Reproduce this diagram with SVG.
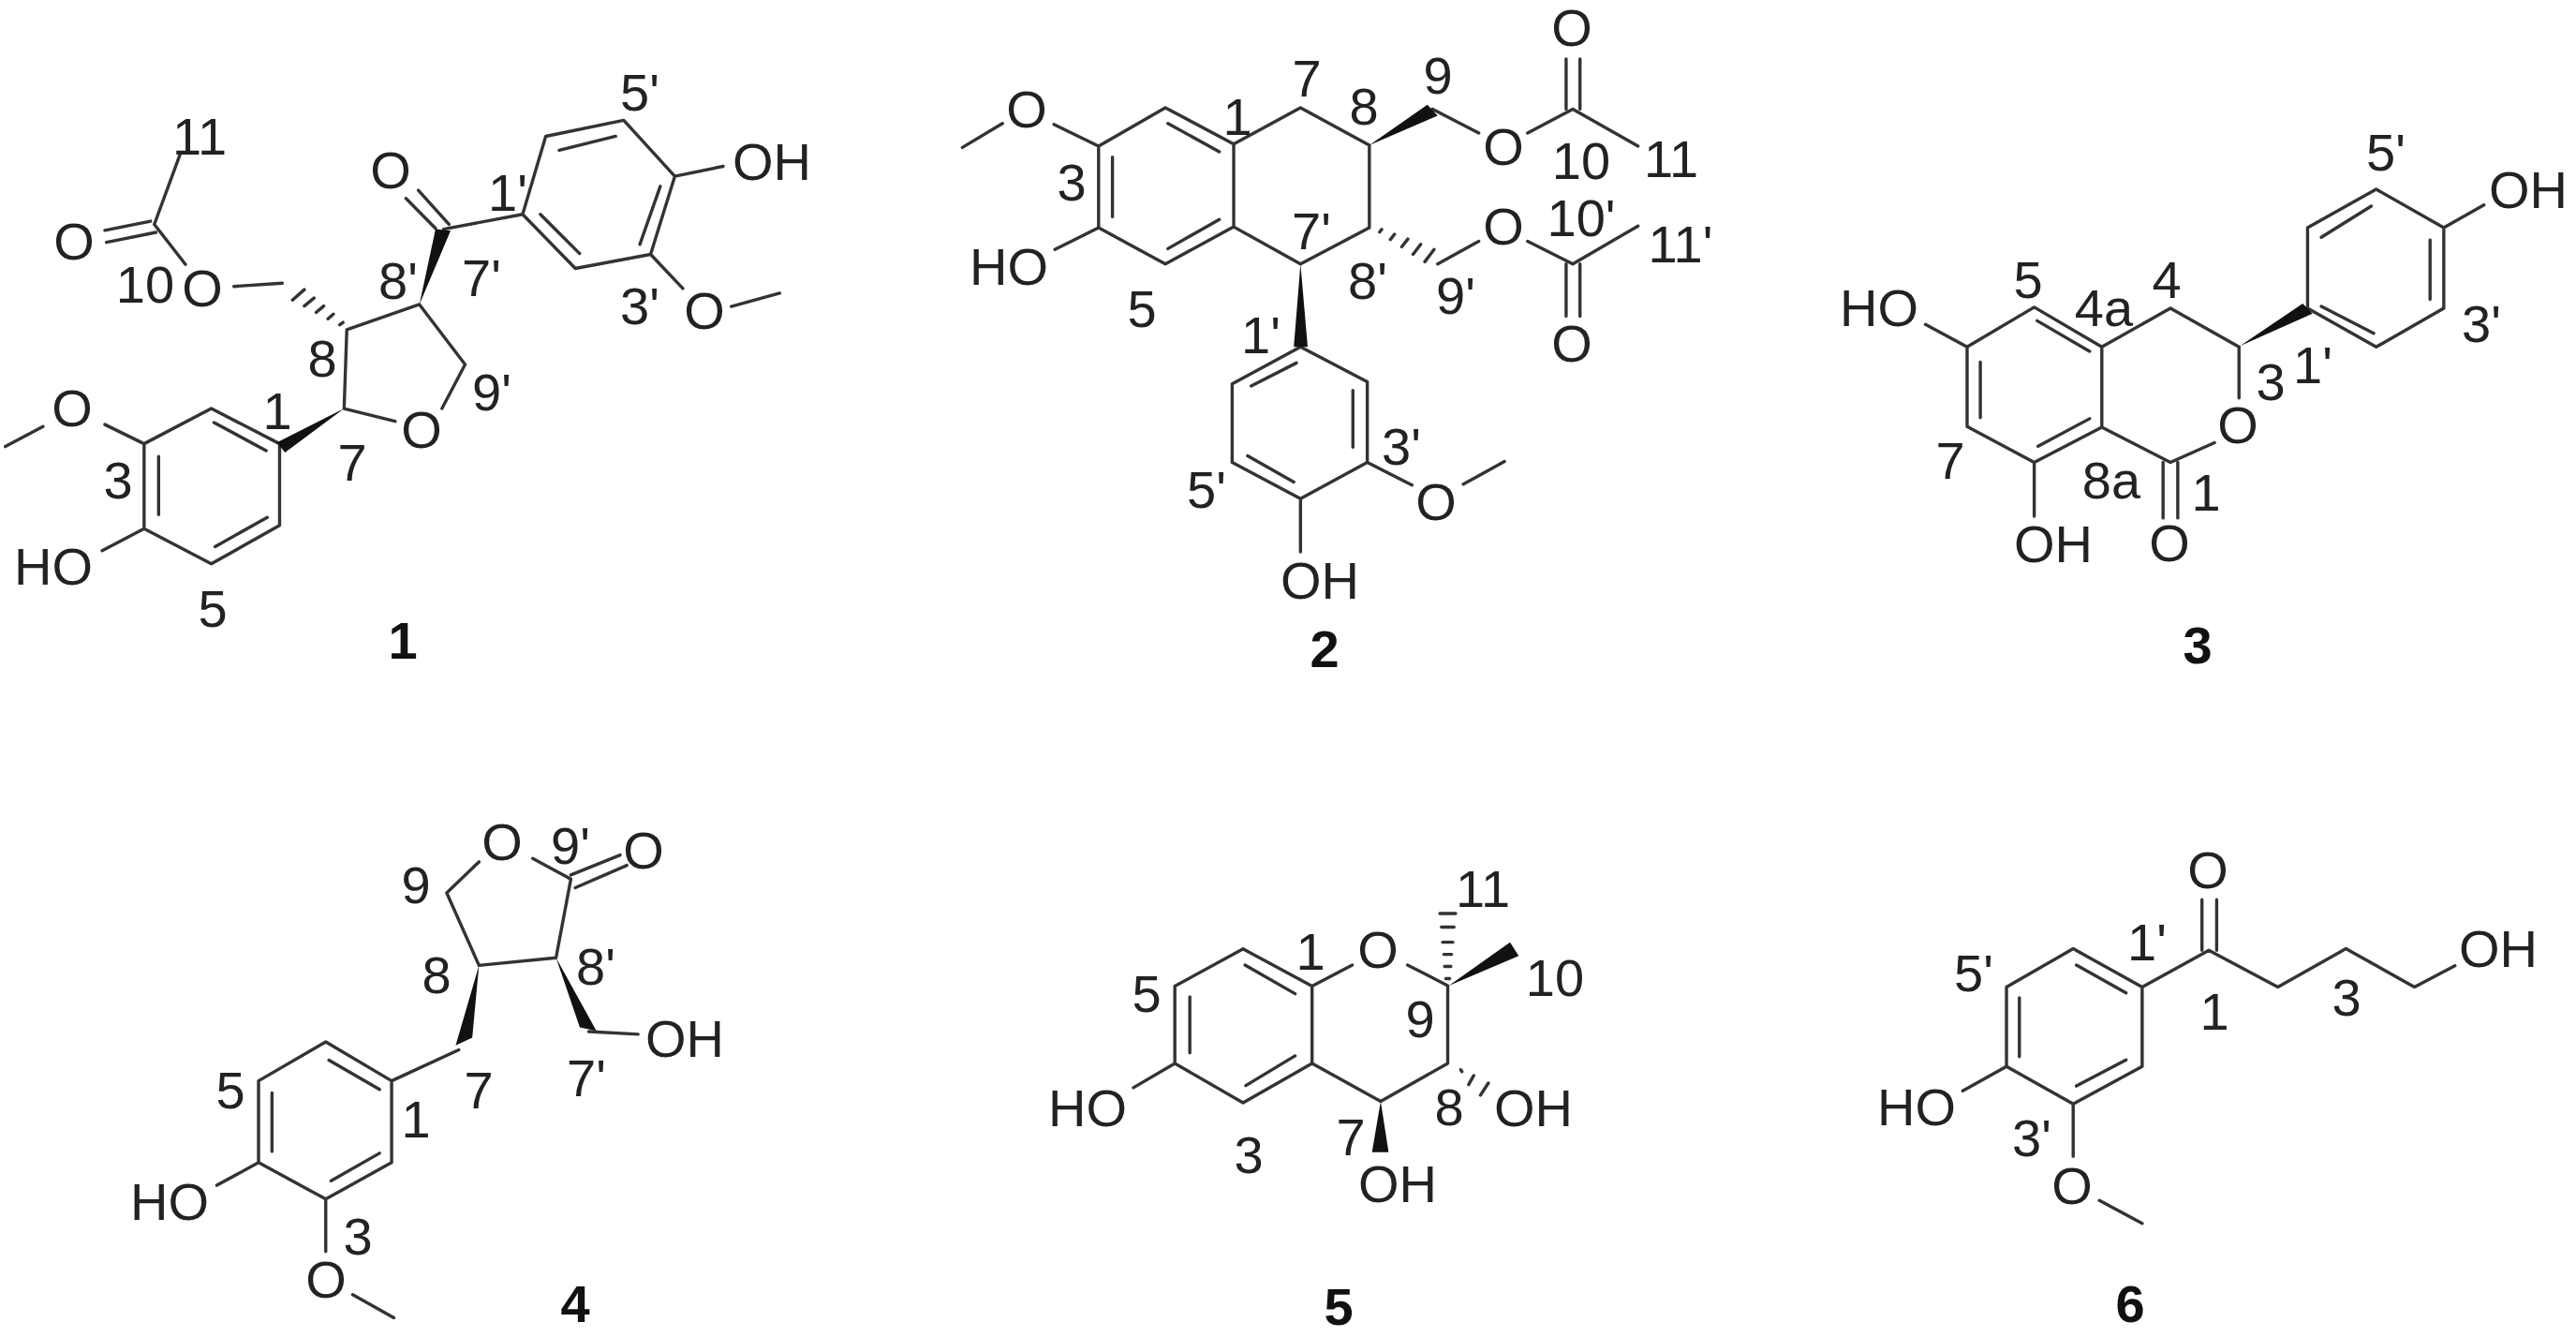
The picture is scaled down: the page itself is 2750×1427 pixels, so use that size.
<svg xmlns="http://www.w3.org/2000/svg" width="2750" height="1427" viewBox="0 0 2750 1427">
<style>
text{font-family:"Liberation Sans",Arial,sans-serif;font-size:56px;text-anchor:middle;fill:#222}
.b{fill:none;stroke:#333;stroke-width:3.4;stroke-linecap:round;stroke-linejoin:round;vector-effect:non-scaling-stroke}
.w{fill:#111;stroke:none}
.n{font-weight:bold;fill:#111}
</style>
<rect width="2750" height="1427" fill="#fff"/>
<g id="m1">
<g id="m1-bonds" transform="translate(0,60) scale(0.574,0.4273)">
<path class="b" d="M393 880L520 968L520 1172L393 1268L268 1180L268 968ZM398 915L495 985M497 1152L400 1225M295 1000L295 1145M268 968L195 920M80 925L10 975M268 1180L190 1235M640 880L735 912M822 880L865 770L780 620L645 683L640 880M835 420L778 335M810 430L755 355M825 432L972 395L1015 200L1160 160L1255 300L1210 495L1070 530L972 395M1040 235L1145 200M1228 325L1190 470M1005 395L1078 493M1255 300L1345 275M1210 495L1270 580M1360 625L1450 592M435 575L525 567M287 420L345 520M280 412L195 435M290 440L198 465M287 420L335 245M632 671L638 665M610 656L620 644M588 640L602 624M566 624L584 604M544 609L566 583"/>
<path class="w" d="M640 880L515 965L530 990ZM780 620L810 432L838 436Z"/>
</g>
<text x="213" y="165">11</text><text x="79" y="277">O</text><text x="155" y="323">10</text><text x="216" y="327">O</text><text x="425" y="319">8'</text><text x="514" y="316">7'</text><text x="344" y="402">8</text><text x="525" y="438">9'</text><text x="296" y="458">1</text><text x="450" y="478">O</text><text x="77" y="455">O</text><text x="126" y="532">3</text><text x="376" y="513">7</text><text x="57" y="624">HO</text><text x="227" y="669">5</text><text class="n" x="430" y="703">1</text><text x="417" y="201">O</text><text x="542" y="225">1'</text><text x="683" y="118">5'</text><text x="824" y="192">OH</text><text x="683" y="346">3'</text><text x="752" y="351">O</text>
</g>
<g id="m2">
<g id="m2-bonds" transform="translate(1000,0) scale(0.5485,0.4656)">
<path class="b" d="M445 247L578 330L578 520L445 605L315 522L315 335ZM450 283L550 348M550 503L450 570M342 360L342 497M315 335L228 285M128 283L50 338M315 522L230 572M578 330L708 247L842 333L842 522L708 605L578 520M965 250L1055 305M1150 305L1238 250L1365 335M1225 250L1225 135M1252 250L1252 135M975 605L1055 553M1150 553L1238 605L1365 518M1225 605L1225 725M1252 605L1252 725M708 795L575 880L575 1060L708 1143L838 1060L838 875L708 795M612 885L700 832M605 1045L695 1105M810 895L810 1025M708 1143L708 1265M838 1060L925 1112M1025 1110L1105 1058M862 532L866 526M883 549L891 537M905 566L917 548M927 583L942 560M950 600L968 572"/>
<path class="w" d="M842 333L955 240L975 265ZM708 605L695 795L722 795Z"/>
</g>
<text x="1096" y="136">O</text><text x="1077" y="304">HO</text><text x="1395" y="103">7</text><text x="1321" y="144">1</text><text x="1456" y="133">8</text><text x="1535" y="100">9</text><text x="1144" y="214">3</text><text x="1219" y="349">5</text><text x="1400" y="266">7'</text><text x="1460" y="319">8'</text><text x="1554" y="335">9'</text><text x="1605" y="176">O</text><text x="1678" y="49">O</text><text x="1688" y="191">10</text><text x="1784" y="189">11</text><text x="1605" y="261">O</text><text x="1688" y="252">10'</text><text x="1794" y="280">11'</text><text x="1678" y="386">O</text><text x="1346" y="377">1'</text><text x="1288" y="542">5'</text><text x="1496" y="496">3'</text><text x="1533" y="555">O</text><text x="1409" y="639">OH</text><text class="n" x="1414" y="712">2</text>
</g>
<g id="m3">
<g id="m3-bonds" transform="translate(1930,130) scale(0.523,0.3827)">
<path class="b" d="M462 517L600 628L600 852L462 950L325 850L325 628ZM468 555L575 640M575 828L470 905M352 670L352 825M325 628L240 565M462 950L462 1100M600 628L740 520L880 628L880 770M830 895L740 950L600 852M725 950L725 1105M755 950L755 1105M1020 520L1020 295L1160 188L1298 295L1298 520L1160 628ZM1048 322L1150 235M1270 330L1270 495M1155 590L1048 515M1298 295L1380 232"/>
<path class="w" d="M882 625L1010 507L1030 535Z"/>
</g>
<text x="2006" y="348">HO</text><text x="2165" y="318">5</text><text x="2313" y="318">4</text><text x="2246" y="348">4a</text><text x="2547" y="182">5'</text><text x="2699" y="222">OH</text><text x="2424" y="427">3</text><text x="2469" y="409">1'</text><text x="2649" y="365">3'</text><text x="2389" y="473">O</text><text x="2082" y="511">7</text><text x="2254" y="532">8a</text><text x="2355" y="545">1</text><text x="2192" y="600">OH</text><text x="2316" y="599">O</text><text class="n" x="2346" y="708">3</text>
</g>
<g id="m4">
<g id="m4-bonds" transform="translate(100,850) scale(0.4783,0.368)">
<path class="b" d="M518 712L665 825L665 1062L518 1168L368 1062L368 825ZM525 765L638 850M638 1035L530 1115M398 860L398 1030M368 1062L275 1128M518 1168L518 1320M578 1445L670 1512M665 825L815 735M860 490L1032 468M860 490L788 280L860 190M980 180L1065 240L1032 468M1065 228L1175 170M1075 265L1190 200M1105 682L1215 690"/>
<path class="w" d="M860 490L808 722L845 700ZM1032 468L1085 670L1122 680Z"/>
</g>
<text x="536" y="918">O</text><text x="609" y="922">9'</text><text x="687" y="927">O</text><text x="444" y="964">9</text><text x="466" y="1060">8</text><text x="636" y="1051">8'</text><text x="731" y="1128">OH</text><text x="626" y="1170">7'</text><text x="511" y="1183">7</text><text x="246" y="1183">5</text><text x="444" y="1214">1</text><text x="181" y="1302">HO</text><text x="382" y="1339">3</text><text x="348" y="1385">O</text><text class="n" x="614" y="1411">4</text>
</g>
<g id="m5">
<g id="m5-bonds" transform="translate(1090,920) scale(0.421,0.3233)">
<path class="b" d="M563 287L738 410L738 665L563 795L390 665L390 410ZM568 340L695 435M695 640L570 738M428 445L428 630M390 665L285 745M738 410L840 340M980 340L1082 408L1082 665L912 790L738 665M1077 385L1087 385M1074 345L1090 345M1072 305L1092 305M1069 265L1095 265M1066 215L1098 215M1062 170L1102 170M1115 686L1118 692M1148 705L1135 735M1185 730L1165 770"/>
<path class="w" d="M1085 408L1240 265L1262 310ZM912 790L890 958L932 958Z"/>
</g>
<text x="1471" y="1033">O</text><text x="1161" y="1202">HO</text><text x="1637" y="1202">OH</text><text x="1492" y="1283">OH</text><text x="1583" y="968">11</text><text x="1660" y="1063">10</text><text x="1399" y="1035">1</text><text x="1224" y="1080">5</text><text x="1516" y="1107">9</text><text x="1547" y="1201">8</text><text x="1442" y="1233">7</text><text x="1333" y="1252">3</text><text class="n" x="1429" y="1414">5</text>
</g>
<g id="m6">
<g id="m6-bonds" transform="translate(1980,880) scale(0.491,0.3489)">
<path class="b" d="M475 380L625 497L625 740L475 855L330 740L330 497ZM482 430L590 515M590 720L482 800M358 530L358 710M330 740L235 815M475 855L475 1015M532 1150L625 1220M625 497L770 385L920 497L1068 380L1217 497L1305 432M755 385L755 230M787 385L787 230"/>
</g>
<text x="2357" y="948">O</text><text x="2292" y="1025">1'</text><text x="2107" y="1058">5'</text><text x="2364" y="1099">1</text><text x="2505" y="1084">3</text><text x="2667" y="1032">OH</text><text x="2046" y="1201">HO</text><text x="2169" y="1234">3'</text><text x="2212" y="1285">O</text><text class="n" x="2274" y="1411">6</text>
</g>
</svg>
